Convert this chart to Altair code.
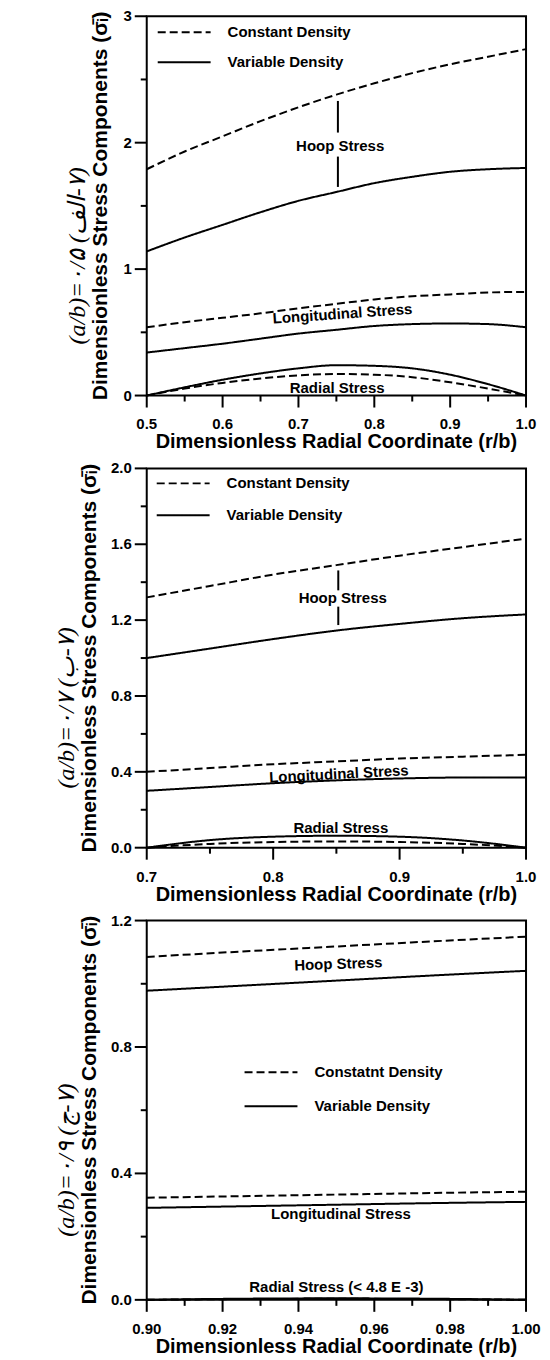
import altair as alt
import pandas as pd

FONT = "Liberation Sans"
SERIF = "Liberation Serif"
YTITLE = "Dimensionless Stress Components (\u03c3\u0304\u1d62)"
XTITLE = "Dimensionless Radial Coordinate (r/b)"

# ---------------- panel (a): a/b = 0.5 ----------------
xA = [0.50, 0.55, 0.60, 0.65, 0.70, 0.75, 0.80, 0.85, 0.90, 0.95, 1.00]
hoopA_c = [1.79, 1.93, 2.05, 2.17, 2.28, 2.38, 2.47, 2.55, 2.62, 2.68, 2.74]
hoopA_v = [1.14, 1.25, 1.35, 1.45, 1.54, 1.61, 1.68, 1.73, 1.77, 1.79, 1.80]
longA_c = [0.54, 0.58, 0.615, 0.65, 0.69, 0.725, 0.76, 0.785, 0.80, 0.815, 0.82]
longA_v = [0.34, 0.375, 0.41, 0.45, 0.49, 0.52, 0.55, 0.565, 0.57, 0.565, 0.54]
radA_c = [0.0, 0.055, 0.10, 0.135, 0.16, 0.17, 0.165, 0.145, 0.105, 0.055, 0.0]
radA_v = [0.0, 0.065, 0.125, 0.175, 0.215, 0.24, 0.235, 0.215, 0.165, 0.09, 0.0]

# ---------------- panel (b): a/b = 0.7 ----------------
xB = [0.70, 0.75, 0.80, 0.85, 0.90, 0.95, 1.00]
hoopB_c = [1.32, 1.38, 1.44, 1.49, 1.54, 1.585, 1.63]
hoopB_v = [1.00, 1.05, 1.10, 1.145, 1.18, 1.21, 1.23]
longB_c = [0.40, 0.42, 0.44, 0.455, 0.47, 0.48, 0.49]
longB_v = [0.30, 0.32, 0.34, 0.355, 0.365, 0.37, 0.37]
radB_c = [0.0, 0.02, 0.03, 0.033, 0.03, 0.02, 0.0]
radB_v = [0.0, 0.04, 0.058, 0.063, 0.058, 0.038, 0.0]

# ---------------- panel (c): a/b = 0.9 ----------------
xC = [0.900, 0.925, 0.950, 0.975, 1.000]
hoopC_c = [1.085, 1.102, 1.118, 1.134, 1.149]
hoopC_v = [0.978, 0.994, 1.010, 1.026, 1.041]
longC_c = [0.323, 0.328, 0.333, 0.338, 0.342]
longC_v = [0.291, 0.296, 0.301, 0.306, 0.310]
radC_c = [0.0, 0.0025, 0.0032, 0.0025, 0.0]
radC_v = [0.0, 0.0036, 0.0048, 0.0036, 0.0]

# annotation texts (label, x, y, angle)
annA = [("Hoop Stress", 0.755, 1.97, 0), ("Longitudinal Stress", 0.758, 0.647, 356),
        ("Radial Stress", 0.751, 0.063, 0)]
annB = [("Hoop Stress", 0.855, 1.314, 0), ("Longitudinal Stress", 0.852, 0.389, 357),
        ("Radial Stress", 0.8535, 0.105, 0)]
annC = [("Hoop Stress", 0.9505, 1.063, 358), ("Longitudinal Stress", 0.9512, 0.27, 0),
        ("Radial Stress (< 4.8 E -3)", 0.950, 0.042, 0)]

# hoop pointer bars (x, y1, y2)
barsA = [(0.752, 2.33, 2.08), (0.752, 1.89, 1.65)]
barsB = [(0.8515, 1.462, 1.357), (0.8515, 1.271, 1.174)]

legendA = ["Constant Density", "Variable Density"]
legendB = ["Constant Density", "Variable Density"]
legendC = ["Constatnt Density", "Variable Density"]

titleA = "(a/b)=\u06f0/\u06f5  (\u0627\u0644\u0641\u200e-\u06f7)"
titleB = "(a/b)=\u06f0/\u06f7  (\u0628\u200e-\u06f7)"
titleC = "(a/b)=\u06f0/\u06f9  (\u062c\u200e-\u06f7)"

# axis ticks: major values with their labels, and minor values
xmajA = [0.5, 0.6, 0.7, 0.8, 0.9, 1.0]
xlabA = ["0.5", "0.6", "0.7", "0.8", "0.9", "1.0"]
xminA = [0.55, 0.65, 0.75, 0.85, 0.95]
ymajA = [0, 1, 2, 3]
ylabA = ["0", "1", "2", "3"]
yminA = [0.5, 1.5, 2.5]

xmajB = [0.7, 0.8, 0.9, 1.0]
xlabB = ["0.7", "0.8", "0.9", "1.0"]
xminB = [0.75, 0.85, 0.95]
ymajB = [0.0, 0.4, 0.8, 1.2, 1.6, 2.0]
ylabB = ["0.0", "0.4", "0.8", "1.2", "1.6", "2.0"]
yminB = [0.2, 0.6, 1.0, 1.4, 1.8]

xmajC = [0.90, 0.92, 0.94, 0.96, 0.98, 1.00]
xlabC = ["0.90", "0.92", "0.94", "0.96", "0.98", "1.00"]
xminC = [0.91, 0.93, 0.95, 0.97, 0.99]
ymajC = [0.0, 0.4, 0.8, 1.2]
ylabC = ["0.0", "0.4", "0.8", "1.2"]
yminC = [0.2, 0.6, 1.0]

DASH = [8, 4]
SOLID = [1, 0]
W = H = 380
TMAJ, TMIN = 12, 6


def make_df(x, hc, hv, lc, lv, rc, rv, names):
    rows = []
    for comp, c, v in (("hoop", hc, hv), ("long", lc, lv), ("rad", rc, rv)):
        for xi, yc, yv in zip(x, c, v):
            rows.append({"x": xi, "y": yc, "component": comp, "density": names[0]})
            rows.append({"x": xi, "y": yv, "component": comp, "density": names[1]})
    return pd.DataFrame(rows)


def panel(df, names, xdom, ydom, xmaj, xlab, xmin, ymaj, ylab, ymin, ann, bars,
          legend_xy, title_text, ytitle_x):
    xs = alt.Scale(domain=xdom, nice=False, zero=False)
    ys = alt.Scale(domain=ydom, nice=False, zero=False)
    dash_scale = alt.Scale(domain=names, range=[DASH, SOLID])

    def X(f):
        return alt.X(f, scale=xs, axis=None)

    def Y(f):
        return alt.Y(f, scale=ys, axis=None)

    layers = [alt.Chart(df).mark_line(color="black", strokeWidth=2,
                                      interpolate="monotone").encode(
        x=X("x:Q"), y=Y("y:Q"),
        strokeDash=alt.StrokeDash("density:N", scale=dash_scale, legend=None),
        detail="component:N",
    )]

    # tick labels
    lab_style = dict(font=FONT, fontSize=15, fontWeight="bold", color="black",
                     baseline="middle")
    layers.append(alt.Chart(pd.DataFrame({"x": xmaj, "t": xlab})).mark_text(
        align="center", **lab_style).encode(x=X("x:Q"), y=alt.value(H + 29), text="t:N"))
    layers.append(alt.Chart(pd.DataFrame({"y": ymaj, "t": ylab})).mark_text(
        align="right", **lab_style).encode(y=Y("y:Q"), x=alt.value(-15), text="t:N"))

    # axis titles
    one = pd.DataFrame({"k": [0]})
    layers.append(alt.Chart(one).mark_text(
        text=XTITLE, font=FONT, fontSize=20, fontWeight="bold", color="black",
        align="center", baseline="middle").encode(x=alt.value(W / 2), y=alt.value(H + 47)))
    layers.append(alt.Chart(one).mark_text(
        text=YTITLE, font=FONT, fontSize=21, fontWeight="bold", color="black",
        align="center", baseline="middle", angle=270).encode(
        x=alt.value(ytitle_x), y=alt.value(H / 2)))

    # in-plot annotations
    ann_df = pd.DataFrame(ann, columns=["text", "x", "y", "angle"])
    layers.append(alt.Chart(ann_df).mark_text(font=FONT, fontSize=15, fontWeight="bold",
                                              color="black").encode(
        x=X("x:Q"), y=Y("y:Q"), text="text:N",
        angle=alt.Angle("angle:Q", scale=None),
    ))
    if bars:
        bar_df = pd.DataFrame(bars, columns=["x", "y", "y2"])
        layers.append(alt.Chart(bar_df).mark_rule(color="black", strokeWidth=2).encode(
            x=X("x:Q"), y=Y("y:Q"), y2="y2:Q"))

    # legend (symbol + label)
    lx, ly, gap = legend_xy
    for i, (name, dash) in enumerate(zip(names, [DASH, SOLID])):
        yy = ly + i * gap
        layers.append(alt.Chart(one).mark_rule(color="black", strokeWidth=2,
                                               strokeDash=dash).encode(
            x=alt.value(lx), x2=alt.value(lx + 53), y=alt.value(yy)))
        layers.append(alt.Chart(one).mark_text(text=name, font=FONT, fontSize=15,
                                               fontWeight="bold", align="left",
                                               baseline="middle", color="black").encode(
            x=alt.value(lx + 70), y=alt.value(yy)))

    # axis ticks (outward), major and minor -- drawn last, on top
    for vals, ln in ((xmaj, TMAJ), (xmin, TMIN)):
        layers.append(alt.Chart(pd.DataFrame({"x": vals})).mark_rule(
            color="black", strokeWidth=2).encode(
            x=X("x:Q"), y=alt.value(H), y2=alt.value(H + ln)))
    for vals, ln in ((ymaj, TMAJ), (ymin, TMIN)):
        layers.append(alt.Chart(pd.DataFrame({"y": vals})).mark_rule(
            color="black", strokeWidth=2).encode(
            y=Y("y:Q"), x=alt.value(0), x2=alt.value(-ln)))

    return alt.layer(*layers).properties(
        width=W, height=H,
        title=alt.TitleParams(text=title_text, orient="left", anchor="middle",
                              font=SERIF, fontStyle="italic", fontWeight="normal",
                              fontSize=24, color="black", offset=0, dx=-50),
    )


dfA = make_df(xA, hoopA_c, hoopA_v, longA_c, longA_v, radA_c, radA_v, legendA)
dfB = make_df(xB, hoopB_c, hoopB_v, longB_c, longB_v, radB_c, radB_v, legendB)
dfC = make_df(xC, hoopC_c, hoopC_v, longC_c, longC_v, radC_c, radC_v, legendC)

pA = panel(dfA, legendA, [0.5, 1.0], [0, 3], xmajA, xlabA, xminA, ymajA, ylabA, yminA,
           annA, barsA, (11, 16, 30), titleA, -46)
pB = panel(dfB, legendB, [0.7, 1.0], [0, 2], xmajB, xlabB, xminB, ymajB, ylabB, yminB,
           annB, barsB, (10, 15, 32), titleB, -57)
pC = panel(dfC, legendC, [0.9, 1.0], [0, 1.2], xmajC, xlabC, xminC, ymajC, ylabC, yminC,
           annC, [], (98, 152, 34), titleC, -57)

chart = alt.vconcat(pA, pB, pC, spacing=7).configure_view(
    stroke="black", strokeWidth=2
).properties(padding={"left": 45, "top": -1, "right": 0, "bottom": 0})

chart.save("out.html", embed_options={"renderer": "svg", "actions": False})
